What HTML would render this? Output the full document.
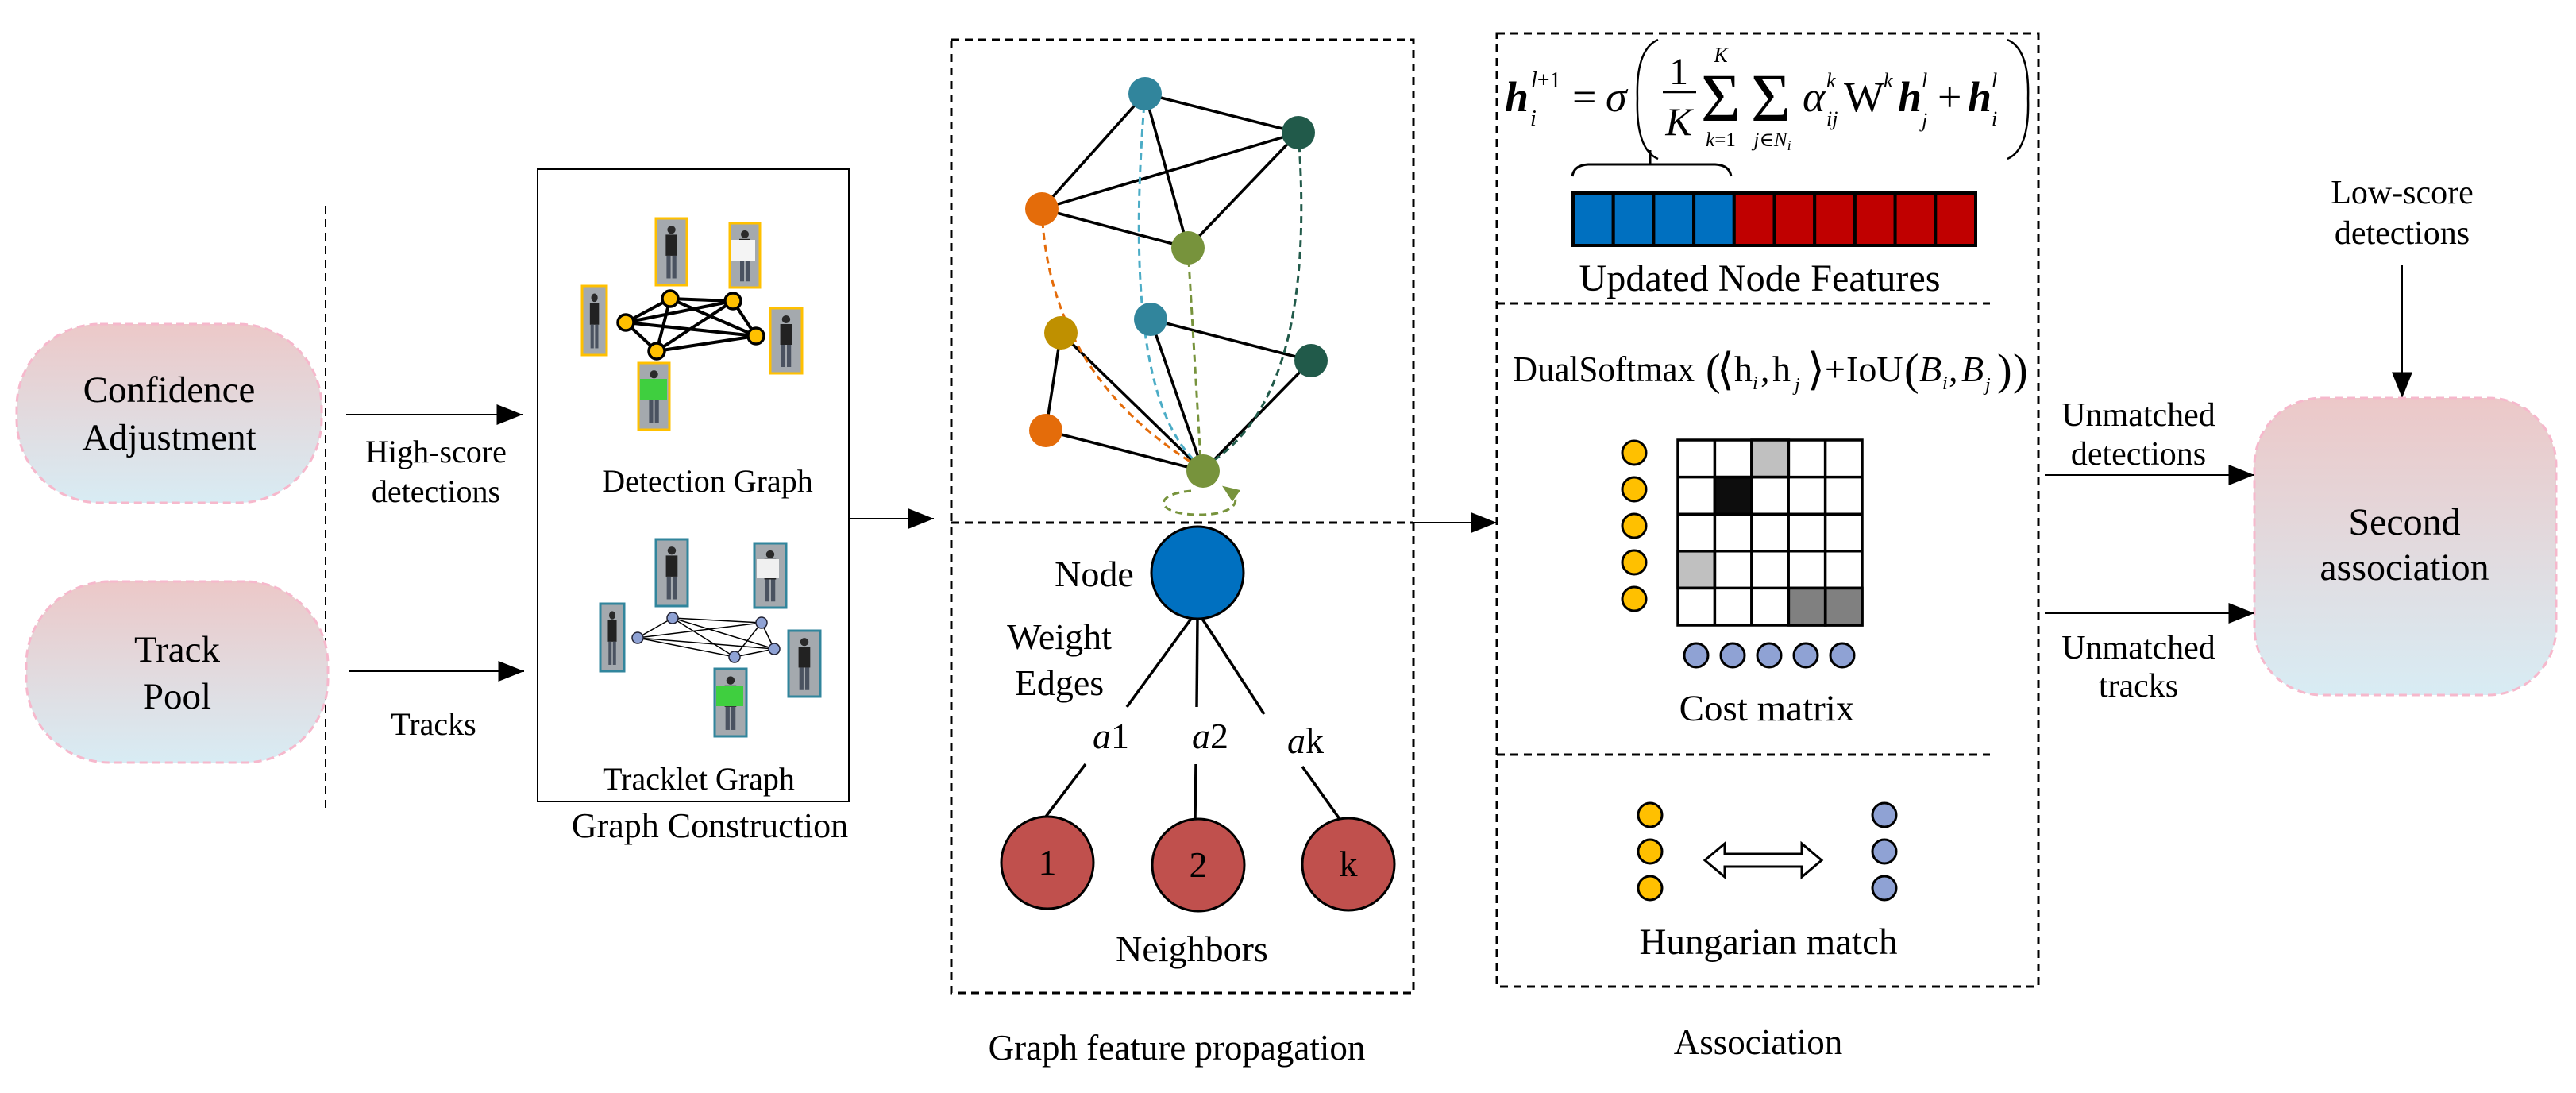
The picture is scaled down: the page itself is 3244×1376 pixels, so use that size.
<!DOCTYPE html>
<html><head><meta charset="utf-8"><style>
html,body{margin:0;padding:0;background:#fff;}
svg{display:block;font-family:"Liberation Serif","DejaVu Serif",serif;}
svg text{font-family:"Liberation Serif","DejaVu Serif",serif;fill:#000;}
</style></head><body>
<svg width="3244" height="1376" viewBox="0 0 3244 1376" xmlns="http://www.w3.org/2000/svg" font-family="Liberation Serif, serif">
<defs>
<linearGradient id="pg" x1="0" y1="0" x2="0" y2="1">
<stop offset="0" stop-color="#ecc8c8"/><stop offset="1" stop-color="#d8ecf4"/>
</linearGradient>
<marker id="ahb" viewBox="0 0 10 8" refX="10" refY="4" markerWidth="46" markerHeight="26" orient="auto" markerUnits="userSpaceOnUse"><path d="M0,0 L10,4 L0,8 z" fill="#000"/></marker>
<marker id="ahg" viewBox="0 0 10 8" refX="5" refY="4" markerWidth="22" markerHeight="18" orient="auto" markerUnits="userSpaceOnUse"><path d="M0,0 L10,4 L0,8 z" fill="#77933c"/></marker>
<g id="person">
<rect x="0" y="0" width="38" height="82" fill="#a4a9ae"/>
<circle cx="19" cy="14" r="5" fill="#2a2a2a"/>
<rect x="12" y="20" width="14" height="26" fill="#222"/>
<rect x="13" y="46" width="5" height="28" fill="#4a5260"/>
<rect x="20" y="46" width="5" height="28" fill="#4a5260"/>
</g>
</defs>

<line x1="410" y1="259" x2="410" y2="1022" stroke="#000" stroke-width="2" stroke-dasharray="10,7"/>

<rect x="21" y="408" width="384" height="225" rx="105" fill="url(#pg)" stroke="#f6b8cc" stroke-width="3" stroke-dasharray="10,6"/>
<text x="213" y="506" font-size="47" text-anchor="middle">Confidence</text>
<text x="213" y="566" font-size="47" text-anchor="middle">Adjustment</text>
<rect x="33" y="732" width="380" height="228" rx="105" fill="url(#pg)" stroke="#f6b8cc" stroke-width="3" stroke-dasharray="10,6"/>
<text x="223" y="833" font-size="47" text-anchor="middle">Track</text>
<text x="223" y="892" font-size="47" text-anchor="middle">Pool</text>

<line x1="436" y1="522" x2="658" y2="522" stroke="#000" stroke-width="2" marker-end="url(#ahb)"/>
<text x="549" y="582" font-size="40" text-anchor="middle">High-score</text>
<text x="549" y="632" font-size="40" text-anchor="middle">detections</text>
<line x1="440" y1="845" x2="660" y2="845" stroke="#000" stroke-width="2" marker-end="url(#ahb)"/>
<text x="546" y="925" font-size="40" text-anchor="middle">Tracks</text>

<rect x="677" y="213" width="392" height="796" fill="none" stroke="#000" stroke-width="2"/>
<use href="#person" transform="translate(826,275) scale(1.03,1.02)"/>
<use href="#person" transform="translate(919,281) scale(1,0.99)"/>
<use href="#person" transform="translate(733,360) scale(0.82,1.06)"/>
<use href="#person" transform="translate(970,388) scale(1.05,1)"/>
<use href="#person" transform="translate(804,457) scale(1.03,1.02)"/>
<rect x="921" y="302" width="30" height="26" fill="#f4f4f4"/>
<rect x="806" y="477" width="34" height="26" fill="#3fcf3f"/>
<g fill="none" stroke="#ffc000" stroke-width="3">
<rect x="826" y="275" width="39" height="84"/>
<rect x="919" y="281" width="38" height="81"/>
<rect x="733" y="360" width="31" height="87"/>
<rect x="970" y="388" width="40" height="82"/>
<rect x="804" y="457" width="39" height="84"/>
</g>
<g stroke="#000" stroke-width="4">
<line x1="788" y1="406" x2="844" y2="376"/><line x1="788" y1="406" x2="923" y2="379"/>
<line x1="788" y1="406" x2="952" y2="423"/><line x1="788" y1="406" x2="827" y2="442"/>
<line x1="844" y1="376" x2="923" y2="379"/><line x1="844" y1="376" x2="952" y2="423"/>
<line x1="844" y1="376" x2="827" y2="442"/><line x1="923" y1="379" x2="952" y2="423"/>
<line x1="923" y1="379" x2="827" y2="442"/><line x1="827" y1="442" x2="952" y2="423"/>
</g>
<g fill="#ffc000" stroke="#000" stroke-width="3.5">
<circle cx="788" cy="406" r="10"/><circle cx="844" cy="376" r="10"/><circle cx="923" cy="379" r="10"/><circle cx="952" cy="423" r="10"/><circle cx="827" cy="442" r="10"/>
</g>
<text x="891" y="619" font-size="40" text-anchor="middle">Detection Graph</text>

<use href="#person" transform="translate(826,679) scale(1.05,1.02)"/>
<use href="#person" transform="translate(950,684) scale(1.05,0.99)"/>
<use href="#person" transform="translate(756,760) scale(0.79,1.04)"/>
<use href="#person" transform="translate(993,794) scale(1.05,1.01)"/>
<use href="#person" transform="translate(900,842) scale(1.05,1.04)"/>
<rect x="953" y="704" width="28" height="24" fill="#f0f0f0"/>
<rect x="902" y="863" width="34" height="26" fill="#3fcf3f"/>
<g fill="none" stroke="#31859c" stroke-width="3">
<rect x="826" y="679" width="40" height="84"/><rect x="950" y="684" width="40" height="81"/>
<rect x="756" y="760" width="30" height="85"/><rect x="993" y="794" width="40" height="83"/>
<rect x="900" y="842" width="40" height="85"/>
</g>
<g stroke="#000" stroke-width="1.5">
<line x1="803" y1="803" x2="847" y2="778"/><line x1="803" y1="803" x2="959" y2="784"/>
<line x1="803" y1="803" x2="975" y2="817"/><line x1="803" y1="803" x2="925" y2="827"/>
<line x1="847" y1="778" x2="959" y2="784"/><line x1="847" y1="778" x2="975" y2="817"/>
<line x1="847" y1="778" x2="925" y2="827"/><line x1="959" y1="784" x2="975" y2="817"/>
<line x1="959" y1="784" x2="925" y2="827"/><line x1="925" y1="827" x2="975" y2="817"/>
</g>
<g fill="#8fa2d4" stroke="#223" stroke-width="1.5">
<circle cx="803" cy="803" r="7"/><circle cx="847" cy="778" r="7"/><circle cx="959" cy="784" r="7"/><circle cx="975" cy="817" r="7"/><circle cx="925" cy="827" r="7"/>
</g>
<text x="880" y="994" font-size="40" text-anchor="middle">Tracklet Graph</text>
<text x="894" y="1054" font-size="44" text-anchor="middle">Graph Construction</text>
<line x1="1069" y1="653" x2="1176" y2="653" stroke="#000" stroke-width="2" marker-end="url(#ahb)"/>

<rect x="1198" y="50" width="582" height="1200" fill="none" stroke="#000" stroke-width="3" stroke-dasharray="10,7"/>
<line x1="1198" y1="658" x2="1780" y2="658" stroke="#000" stroke-width="3" stroke-dasharray="10,7"/>
<g stroke="#000" stroke-width="3.5">
<line x1="1442" y1="118" x2="1312" y2="263"/><line x1="1442" y1="118" x2="1635" y2="167"/>
<line x1="1442" y1="118" x2="1496" y2="312"/><line x1="1312" y1="263" x2="1635" y2="167"/>
<line x1="1312" y1="263" x2="1496" y2="312"/><line x1="1496" y1="312" x2="1635" y2="167"/>
<line x1="1336" y1="419" x2="1317" y2="542"/><line x1="1336" y1="419" x2="1515" y2="593"/>
<line x1="1449" y1="402" x2="1515" y2="593"/><line x1="1449" y1="402" x2="1651" y2="454"/>
<line x1="1651" y1="454" x2="1515" y2="593"/><line x1="1317" y1="542" x2="1515" y2="593"/>
</g>
<g fill="none" stroke-width="3" stroke-dasharray="9,6">
<path d="M1312,263 Q1320,470 1505,585" stroke="#e46c0a"/>
<path d="M1442,118 Q1410,500 1510,585" stroke="#4bacc6"/>
<path d="M1635,167 Q1660,500 1520,585" stroke="#215a4a"/>
<path d="M1496,312 L1512,580" stroke="#77933c"/>
<path d="M1500,618 C1450,622 1455,648 1510,648 C1555,648 1565,630 1548,618" stroke="#77933c" marker-end="url(#ahg)"/>
</g>
<circle cx="1442" cy="118" r="21" fill="#31859c"/>
<circle cx="1635" cy="167" r="21" fill="#215a4a"/>
<circle cx="1312" cy="263" r="21" fill="#e46c0a"/>
<circle cx="1496" cy="312" r="21" fill="#77933c"/>
<circle cx="1336" cy="419" r="21" fill="#bf9000"/>
<circle cx="1449" cy="402" r="21" fill="#31859c"/>
<circle cx="1651" cy="454" r="21" fill="#215a4a"/>
<circle cx="1317" cy="542" r="21" fill="#e46c0a"/>
<circle cx="1515" cy="593" r="21" fill="#77933c"/>

<circle cx="1508" cy="721" r="58" fill="#0070c0" stroke="#000" stroke-width="3"/>
<text x="1378" y="738" font-size="46" text-anchor="middle">Node</text>
<text x="1334" y="817" font-size="46" text-anchor="middle">Weight</text>
<text x="1334" y="875" font-size="46" text-anchor="middle">Edges</text>
<g stroke="#000" stroke-width="3.5">
<line x1="1500" y1="779" x2="1419" y2="890"/><line x1="1508" y1="779" x2="1507" y2="890"/>
<line x1="1514" y1="779" x2="1592" y2="899"/>
<line x1="1367" y1="962" x2="1317" y2="1028"/><line x1="1506" y1="962" x2="1505" y2="1031"/>
<line x1="1640" y1="965" x2="1687" y2="1031"/>
</g>
<text x="1399" y="942" font-size="46" text-anchor="middle"><tspan font-style="italic">a</tspan>1</text>
<text x="1524" y="942" font-size="46" text-anchor="middle"><tspan font-style="italic">a</tspan>2</text>
<text x="1644" y="948" font-size="46" text-anchor="middle"><tspan font-style="italic">a</tspan>k</text>
<g fill="#c0504d" stroke="#000" stroke-width="3">
<circle cx="1319" cy="1086" r="58"/><circle cx="1509" cy="1089" r="58"/><circle cx="1698" cy="1088" r="58"/>
</g>
<text x="1319" y="1101" font-size="46" text-anchor="middle">1</text>
<text x="1509" y="1104" font-size="46" text-anchor="middle">2</text>
<text x="1698" y="1103" font-size="46" text-anchor="middle">k</text>
<text x="1501" y="1210" font-size="46" text-anchor="middle">Neighbors</text>
<text x="1482" y="1334" font-size="45" text-anchor="middle">Graph feature propagation</text>
<line x1="1780" y1="658" x2="1885" y2="658" stroke="#000" stroke-width="2" marker-end="url(#ahb)"/>

<rect x="1885" y="42" width="682" height="1200" fill="none" stroke="#000" stroke-width="3" stroke-dasharray="10,7"/>
<line x1="1885" y1="382" x2="2506" y2="382" stroke="#000" stroke-width="3" stroke-dasharray="10,7"/>
<line x1="1885" y1="950" x2="2506" y2="950" stroke="#000" stroke-width="3" stroke-dasharray="10,7"/>

<g font-size="54">
<text x="1895" y="140" font-style="italic" font-weight="bold">h</text>
<text x="1927" y="158" font-size="28" font-style="italic">i</text>
<text x="1928" y="110" font-size="28"><tspan font-style="italic">l</tspan>+1</text>
<text x="1980" y="140">=</text>
<text x="2022" y="140" font-style="italic">σ</text>
<path d="M2088,50 Q2060,62 2062,124 Q2060,188 2088,200" fill="none" stroke="#000" stroke-width="2.5"/>
<text x="2114" y="106" text-anchor="middle" font-size="48">1</text>
<line x1="2094" y1="116" x2="2136" y2="116" stroke="#000" stroke-width="2.5"/>
<text x="2114" y="170" text-anchor="middle" font-size="50" font-style="italic">K</text>
<text x="2167" y="152" text-anchor="middle" font-size="86">Σ</text>
<text x="2167" y="78" text-anchor="middle" font-size="26" font-style="italic">K</text>
<text x="2167" y="184" text-anchor="middle" font-size="25"><tspan font-style="italic">k</tspan>=1</text>
<text x="2230" y="152" text-anchor="middle" font-size="86">Σ</text>
<text x="2232" y="184" text-anchor="middle" font-size="25" font-style="italic">j∈N<tspan font-size="18" dy="5">i</tspan></text>
<text x="2270" y="140" font-style="italic">α</text>
<text x="2300" y="110" font-size="26" font-style="italic">k</text>
<text x="2300" y="158" font-size="26" font-style="italic">ij</text>
<text x="2322" y="140">W</text>
<text x="2372" y="110" font-size="26" font-style="italic">k</text>
<text x="2390" y="140" font-style="italic" font-weight="bold">h</text>
<text x="2420" y="110" font-size="26" font-style="italic">l</text>
<text x="2420" y="160" font-size="26" font-style="italic">j</text>
<text x="2440" y="140">+</text>
<text x="2478" y="140" font-style="italic" font-weight="bold">h</text>
<text x="2508" y="110" font-size="26" font-style="italic">l</text>
<text x="2508" y="158" font-size="26" font-style="italic">i</text>
<path d="M2528,50 Q2556,62 2554,124 Q2556,188 2528,200" fill="none" stroke="#000" stroke-width="2.5"/>
</g>
<path d="M1980,222 Q1982,208 2000,207 L2160,207 Q2178,208 2180,222" fill="none" stroke="#000" stroke-width="3"/>
<line x1="2078" y1="207" x2="2078" y2="189" stroke="#000" stroke-width="3"/>
<g stroke="#000" stroke-width="4">
<rect x="1981" y="243" width="50.7" height="66" fill="#0070c0"/>
<rect x="2031.7" y="243" width="50.7" height="66" fill="#0070c0"/>
<rect x="2082.4" y="243" width="50.7" height="66" fill="#0070c0"/>
<rect x="2133.1" y="243" width="50.7" height="66" fill="#0070c0"/>
<rect x="2183.8" y="243" width="50.7" height="66" fill="#c00000"/>
<rect x="2234.5" y="243" width="50.7" height="66" fill="#c00000"/>
<rect x="2285.2" y="243" width="50.7" height="66" fill="#c00000"/>
<rect x="2335.9" y="243" width="50.7" height="66" fill="#c00000"/>
<rect x="2386.6" y="243" width="50.7" height="66" fill="#c00000"/>
<rect x="2437.3" y="243" width="50.7" height="66" fill="#c00000"/>
</g>
<text x="2216" y="366" font-size="48" text-anchor="middle" textLength="455" lengthAdjust="spacingAndGlyphs">Updated Node Features</text>

<g font-size="46">
<text x="1905" y="480" textLength="229" lengthAdjust="spacingAndGlyphs">DualSoftmax</text>
<text x="2148" y="484" font-size="56">(</text>
<text x="2162" y="484" font-size="56">⟨</text>
<text x="2184" y="480">h</text><text x="2207" y="490" font-size="24" font-style="italic">i</text>
<text x="2217" y="480">,</text>
<text x="2232" y="480">h</text><text x="2260" y="492" font-size="24" font-style="italic">j</text>
<text x="2276" y="484" font-size="56">⟩</text>
<text x="2298" y="480">+</text>
<text x="2325" y="480">IoU</text>
<text x="2398" y="484" font-size="56">(</text>
<text x="2417" y="480" font-style="italic">B</text><text x="2446" y="490" font-size="24" font-style="italic">i</text>
<text x="2454" y="480">,</text>
<text x="2470" y="480" font-style="italic">B</text><text x="2500" y="492" font-size="24" font-style="italic">j</text>
<text x="2515" y="484" font-size="56">)</text>
<text x="2535" y="484" font-size="56">)</text>
</g>

<g stroke="#000" stroke-width="3.5">
<rect x="2113" y="554" width="232" height="233" fill="#fff"/>
<rect x="2206" y="554" width="46.4" height="46.6" fill="#c0c0c0"/>
<rect x="2159.4" y="600.6" width="46.4" height="46.6" fill="#0d0d0d"/>
<rect x="2113" y="693.8" width="46.4" height="46.6" fill="#c0c0c0"/>
<rect x="2252.4" y="740.4" width="46.4" height="46.6" fill="#808080"/>
<rect x="2298.8" y="740.4" width="46.2" height="46.6" fill="#808080"/>
<line x1="2159.4" y1="554" x2="2159.4" y2="787"/><line x1="2205.8" y1="554" x2="2205.8" y2="787"/>
<line x1="2252.2" y1="554" x2="2252.2" y2="787"/><line x1="2298.6" y1="554" x2="2298.6" y2="787"/>
<line x1="2113" y1="600.6" x2="2345" y2="600.6"/><line x1="2113" y1="647.2" x2="2345" y2="647.2"/>
<line x1="2113" y1="693.8" x2="2345" y2="693.8"/><line x1="2113" y1="740.4" x2="2345" y2="740.4"/>
</g>
<g fill="#ffc000" stroke="#000" stroke-width="3">
<circle cx="2058" cy="570" r="15"/><circle cx="2058" cy="616" r="15"/><circle cx="2058" cy="662" r="15"/><circle cx="2058" cy="708" r="15"/><circle cx="2058" cy="754" r="15"/>
<circle cx="2078" cy="1026" r="15"/><circle cx="2078" cy="1072" r="15"/><circle cx="2078" cy="1118" r="15"/>
</g>
<g fill="#8fa2d4" stroke="#000" stroke-width="3">
<circle cx="2136" cy="825" r="15"/><circle cx="2182" cy="825" r="15"/><circle cx="2228" cy="825" r="15"/><circle cx="2274" cy="825" r="15"/><circle cx="2320" cy="825" r="15"/>
<circle cx="2373" cy="1026" r="15"/><circle cx="2373" cy="1072" r="15"/><circle cx="2373" cy="1118" r="15"/>
</g>
<text x="2225" y="907" font-size="47" text-anchor="middle">Cost matrix</text>
<path d="M2147,1083 L2172,1062 L2172,1075 L2269,1075 L2269,1062 L2294,1083 L2269,1104 L2269,1091 L2172,1091 L2172,1104 Z" fill="#fff" stroke="#000" stroke-width="3"/>
<text x="2227" y="1201" font-size="47" text-anchor="middle">Hungarian match</text>
<text x="2214" y="1327" font-size="45" text-anchor="middle">Association</text>

<text x="3025" y="256" font-size="42" text-anchor="middle">Low-score</text>
<text x="3025" y="307" font-size="42" text-anchor="middle">detections</text>
<line x1="3025" y1="333" x2="3025" y2="501" stroke="#000" stroke-width="2" marker-end="url(#ahb)"/>
<rect x="2839" y="501" width="380" height="374" rx="85" fill="url(#pg)" stroke="#f6b8cc" stroke-width="3" stroke-dasharray="10,6"/>
<text x="3028" y="673" font-size="48" text-anchor="middle">Second</text>
<text x="3028" y="730" font-size="48" text-anchor="middle">association</text>
<text x="2693" y="536" font-size="42" text-anchor="middle">Unmatched</text>
<text x="2693" y="585" font-size="42" text-anchor="middle">detections</text>
<line x1="2575" y1="598" x2="2839" y2="598" stroke="#000" stroke-width="2" marker-end="url(#ahb)"/>
<line x1="2575" y1="772" x2="2839" y2="772" stroke="#000" stroke-width="2" marker-end="url(#ahb)"/>
<text x="2693" y="829" font-size="42" text-anchor="middle">Unmatched</text>
<text x="2693" y="877" font-size="42" text-anchor="middle">tracks</text>
</svg>
</body></html>
